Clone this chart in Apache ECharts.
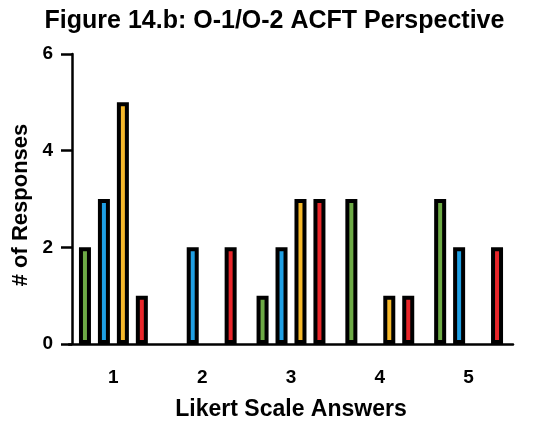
<!DOCTYPE html>
<html>
<head>
<meta charset="utf-8">
<script src="https://cdn.jsdelivr.net/npm/echarts@6/dist/echarts.min.js"></script>
<style>
  html, body { margin: 0; padding: 0; background: #fff; }
  #chart { width: 549px; height: 422px; }
</style>
</head>
<body>
<div id="chart"></div>
<script>
// Likert answers and response counts per group
const categories = ['1', '2', '3', '4', '5'];
const seriesNames = ['Group A', 'Group B', 'Group C', 'Group D'];
const greenValues = [2, 0, 1, 3, 3];
const blueValues = [3, 2, 2, 0, 2];
const orangeValues = [5, 0, 3, 1, 0];
const redValues = [1, 2, 3, 1, 2];
const yTicks = [0, 2, 4, 6];

const colors = ['#6DAA45', '#1F9FE3', '#F5B82A', '#E8262A'];
const allValues = [greenValues, blueValues, orangeValues, redValues];

const chart = echarts.init(document.getElementById('chart'), null, { renderer: 'canvas' });

const font = 'Liberation Sans, Arial, Helvetica, sans-serif';

chart.setOption({
  animation: false,
  backgroundColor: '#ffffff',
  title: {
    text: 'Figure 14.b: O-1/O-2 ACFT Perspective',
    left: 'center',
    top: 4,
    textStyle: { fontFamily: font, fontWeight: 'bold', fontSize: 25, color: '#000' }
  },
  grid: { left: 69, right: 36, top: 54, bottom: 78, containLabel: false, outerBoundsMode: 'none' },
  xAxis: {
    type: 'category',
    data: categories,
    name: 'Likert Scale Answers',
    nameLocation: 'middle',
    nameGap: 54,
    nameTextStyle: { fontFamily: font, fontWeight: 'bold', fontSize: 23, color: '#000' },
    axisLine: { lineStyle: { color: '#000', width: 2.5 } },
    axisTick: { alignWithLabel: true, length: 12, lineStyle: { color: '#000', width: 2.5 } },
    axisLabel: { margin: 24, fontFamily: font, fontWeight: 'bold', fontSize: 19, color: '#000' }
  },
  yAxis: {
    type: 'value',
    min: yTicks[0],
    max: yTicks[yTicks.length - 1],
    interval: 2,
    offset: -3,
    name: '# of Responses',
    nameLocation: 'middle',
    nameGap: 33,
    nameTextStyle: { fontFamily: font, fontWeight: 'bold', fontSize: 22, color: '#000', padding: [0, 0, 0, -12] },
    splitLine: { show: false },
    axisLine: { show: true, lineStyle: { color: '#000', width: 2.5 } },
    axisTick: { show: true, length: 11, lineStyle: { color: '#000', width: 2.5 } },
    axisLabel: { margin: 19, fontFamily: font, fontWeight: 'bold', fontSize: 19, color: '#000' }
  },
  series: allValues.map((vals, i) => ({
    name: seriesNames[i],
    type: 'bar',
    // empty answers draw no bar at all
    data: vals.map(v => (v === 0 ? '-' : v)),
    barWidth: 12,
    barGap: '58%',
    itemStyle: { color: colors[i], borderColor: '#000', borderWidth: 4 }
  }))
});
</script>
</body>
</html>
